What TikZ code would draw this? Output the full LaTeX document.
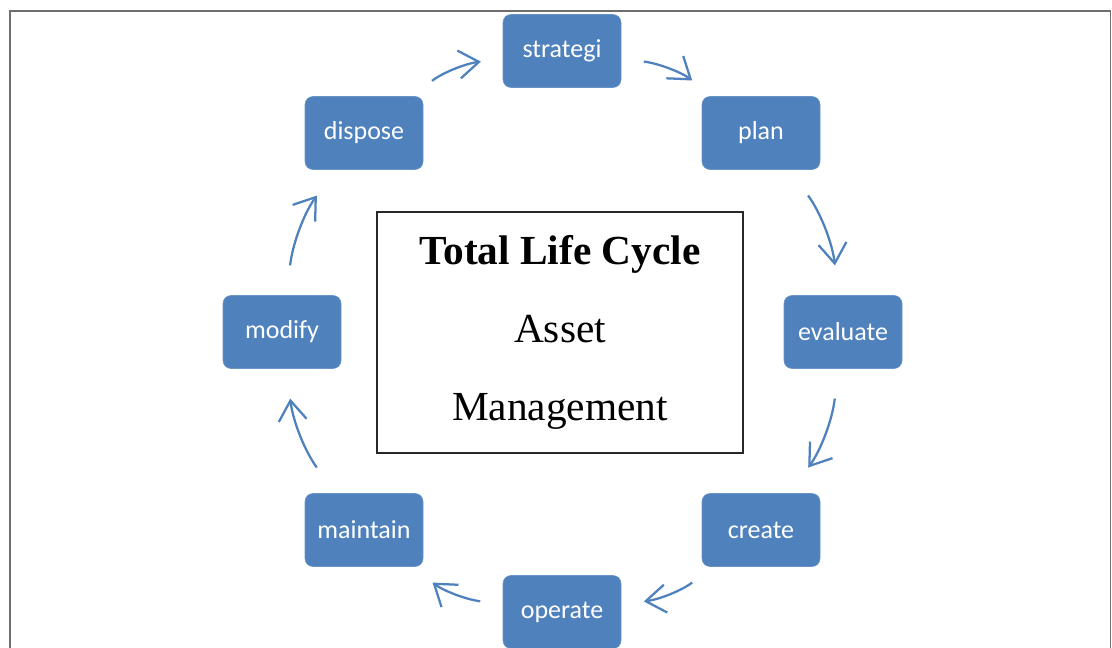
\documentclass[tikz,border=0pt]{standalone}
\usepackage{fontspec}
\usetikzlibrary{arrows.meta}
\newfontfamily\stagefont{Carlito}
\newfontfamily\hubfont{Liberation Serif}

\begin{document}
\begin{tikzpicture}[x=0.75pt,y=0.75pt,yscale=-1,xscale=1,
    stage/.style={draw={rgb, 255:red, 105; green, 148; blue, 200 }, fill={rgb, 255:red, 79; green, 129; blue, 189 }, rounded corners=6pt, minimum width=88.5pt, minimum height=54.75pt, inner sep=0.75pt, text={rgb, 255:red, 255; green, 255; blue, 255 }, font=\stagefont\fontsize{19.5}{23}\selectfont},
    hub/.style={draw={rgb, 255:red, 40; green, 40; blue, 40 }, line width=1.2pt, minimum width=274.5pt, minimum height=180.75pt, align=center, font=\hubfont\fontsize{31}{58.5}\selectfont},
    cyclearrow/.style={draw={rgb, 255:red, 79; green, 129; blue, 189 }, line width=1.7pt, -{Straight Barb[length=15pt,width=21pt]}, bend right=15}
  ]
  \useasboundingbox (0,0) rectangle (1112,648);

  %Shape: Frame
  \draw [color={rgb, 255:red, 110; green, 110; blue, 110 }, line width=1.2pt] (10,648) -- (10,11) -- (1110.5,11) -- (1110.5,648) ;

  %Shape: Rectangle [centre]
  \draw (560,332.5) node [hub] (hub) {{\bfseries Total Life Cycle}\\Asset\\Management};

  %Shape: Rounded Rect [stages]
  \draw (562,51) node [stage] (strategi) {strategi};
  \draw (761,133) node [stage] (plan) {plan};
  \draw (843,332) node [stage] (evaluate) {evaluate};
  \draw (761,530) node [stage] (create) {create};
  \draw (562,612) node [stage] (operate) {operate};
  \draw (364,530) node [stage] (maintain) {maintain};
  \draw (282,332) node [stage] (modify) {modify};
  \draw (364,133) node [stage] (dispose) {dispose};

  %Curve Lines [cycle]
  \foreach \src/\dst/\s/\e in {strategi/plan/17/19.5, plan/evaluate/24/22.5, evaluate/create/22.5/24, create/operate/19.5/17,
      operate/maintain/17/19.5, maintain/modify/24/22.5, modify/dispose/22.5/24, dispose/strategi/19/16.5}
    \draw [cyclearrow, shorten <=\s pt, shorten >=\e pt] (\src) to (\dst) ;

\end{tikzpicture}
\end{document}
